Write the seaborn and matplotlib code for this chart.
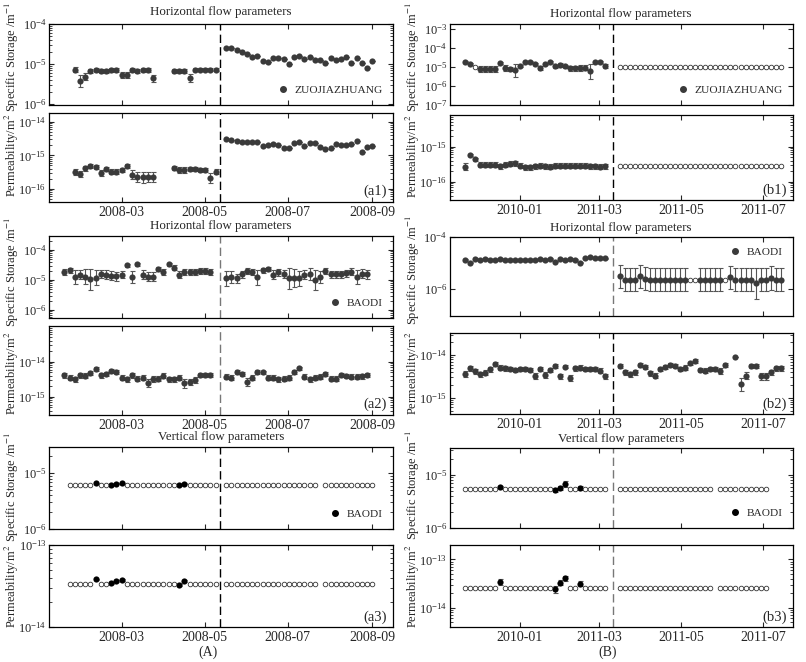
import numpy as np
import pandas as pd
import matplotlib
matplotlib.use('Agg')
import matplotlib.pyplot as plt
from matplotlib.lines import Line2D
from matplotlib.ticker import NullFormatter
import seaborn as sns

# --- 1. DATA ---

# sampling dates of the inversion windows (about every 3.8 days)
dates_a = pd.date_range('2008-01-19', '2008-09-01', periods=60)
dates_b = pd.date_range('2010-11-21', '2011-07-14', periods=64)
quake_a = pd.Timestamp('2008-05-12')
quake_b = pd.Timestamp('2011-03-11')

tick_dates_a = ['2008-03-01', '2008-05-01', '2008-07-01', '2008-09-01']
tick_labels_a = ['2008-03', '2008-05', '2008-07', '2008-09']
tick_dates_b = ['2011-01-01', '2011-03-01', '2011-05-01', '2011-07-01']
tick_labels_b = ['2010-01', '2011-03', '2011-05', '2011-07']

# flags: f = fitted (filled dot), o = fixed (open circle), . = no value
# vals are log10 of the fitted values, errs their half width in decades

# (a1) ZUOJIAZHUANG, horizontal flow
a1_flags = '..' + 'f' * 16 + '...' + 'f' * 9 + '.' + 'f' * 29
a1_ss_vals = [-5.15, -5.43, -5.32, -5.17, -5.15, -5.18, -5.17, -5.15, -5.15, -5.28, -5.28, -5.15, -5.18, -5.15, -5.15, -5.36,
              -5.17, -5.17, -5.17, -5.36, -5.15, -5.15, -5.15, -5.15, -5.15,
              -4.59, -4.59, -4.65, -4.71, -4.75, -4.83, -4.79, -4.92, -4.94, -4.84, -4.84, -4.88, -5.00, -4.82, -4.79,
              -4.88, -4.83, -4.91, -4.91, -4.98, -4.84, -4.90, -4.88, -4.82, -4.98, -4.86, -4.98, -5.11, -4.93]
a1_ss_errs = [0.06, 0.15, 0.08, 0.05, 0.05, 0.05, 0.05, 0.05, 0.05, 0.08, 0.08, 0.05, 0.05, 0.05, 0.05, 0.09,
              0.05, 0.05, 0.05, 0.10, 0.04, 0.04, 0.04, 0.04, 0.04,
              0, 0, 0, 0, 0, 0, 0, 0, 0, 0, 0, 0, 0, 0, 0, 0, 0, 0, 0, 0, 0, 0, 0, 0, 0, 0, 0, 0, 0]
a1_k_vals = [-15.51, -15.55, -15.39, -15.31, -15.34, -15.53, -15.41, -15.49, -15.49, -15.44, -15.32, -15.58, -15.65, -15.66, -15.65, -15.65,
             -15.37, -15.44, -15.44, -15.41, -15.41, -15.44, -15.44, -15.68, -15.49,
             -14.52, -14.54, -14.57, -14.59, -14.61, -14.60, -14.59, -14.71, -14.70, -14.67, -14.69, -14.79, -14.77, -14.62, -14.59,
             -14.71, -14.62, -14.64, -14.74, -14.82, -14.77, -14.66, -14.70, -14.70, -14.66, -14.57, -14.91, -14.74, -14.72]
a1_k_errs = [0.09, 0.09, 0.07, 0.06, 0.06, 0.10, 0.07, 0.08, 0.08, 0.07, 0.06, 0.14, 0.15, 0.16, 0.15, 0.15,
             0.06, 0.08, 0.08, 0.07, 0.07, 0.07, 0.07, 0.15, 0.08,
             0, 0, 0, 0, 0, 0, 0, 0, 0, 0, 0, 0, 0, 0, 0, 0, 0, 0, 0, 0, 0, 0, 0, 0, 0, 0, 0, 0, 0]

# (a2) BAODI, horizontal flow
a2_flags = 'f' * 29 + '..' + 'f' * 28 + '.'
a2_ss_vals = [-4.74, -4.67, -4.90, -4.83, -4.89, -4.98, -4.92, -4.80, -4.83, -4.86, -4.87, -4.83, -4.50, -4.89, -4.48,
              -4.83, -4.89, -4.89, -4.63, -4.74, -4.48, -4.59, -4.83, -4.74, -4.72, -4.72, -4.70, -4.70, -4.74,
              -4.94, -4.89, -4.94, -4.81, -4.70, -4.74, -4.91, -4.67, -4.63, -4.83, -4.74, -4.80, -4.94, -4.92,
              -4.94, -4.83, -4.81, -5.00, -4.89, -4.70, -4.81, -4.81, -4.81, -4.78, -4.72, -4.90, -4.79, -4.81]
a2_ss_errs = [0.10, 0.08, 0.25, 0.15, 0.25, 0.35, 0.25, 0.12, 0.15, 0.15, 0.15, 0.12, 0.05, 0.20, 0.05,
              0.15, 0.15, 0.15, 0.08, 0.10, 0.05, 0.08, 0.12, 0.10, 0.10, 0.10, 0.10, 0.10, 0.10,
              0.25, 0.20, 0.15, 0.12, 0.10, 0.10, 0.25, 0.08, 0.08, 0.15, 0.12, 0.15, 0.35, 0.30,
              0.25, 0.15, 0.20, 0.35, 0.20, 0.10, 0.12, 0.12, 0.12, 0.12, 0.12, 0.25, 0.15, 0.15]
a2_k_vals = [-14.38, -14.45, -14.50, -14.38, -14.40, -14.33, -14.21, -14.38, -14.36, -14.26, -14.30, -14.45, -14.50, -14.38, -14.48,
             -14.46, -14.60, -14.50, -14.48, -14.40, -14.50, -14.50, -14.45, -14.62, -14.57, -14.52, -14.38, -14.38, -14.38,
             -14.43, -14.46, -14.29, -14.36, -14.57, -14.45, -14.29, -14.30, -14.45, -14.45, -14.50, -14.48, -14.45, -14.29,
             -14.19, -14.43, -14.50, -14.46, -14.43, -14.35, -14.48, -14.48, -14.38, -14.41, -14.43, -14.43, -14.41, -14.38]
a2_k_errs = [0.07, 0.07, 0.07, 0.07, 0.07, 0.06, 0.05, 0.07, 0.06, 0.05, 0.06, 0.07, 0.07, 0.07, 0.07,
             0.07, 0.12, 0.08, 0.07, 0.07, 0.07, 0.07, 0.07, 0.12, 0.09, 0.08, 0.06, 0.06, 0.06,
             0.07, 0.07, 0.05, 0.06, 0.12, 0.07, 0.05, 0.05, 0.07, 0.07, 0.07, 0.07, 0.07, 0.05,
             0.05, 0.07, 0.07, 0.07, 0.07, 0.06, 0.07, 0.07, 0.06, 0.06, 0.07, 0.07, 0.07, 0.06]

# (a3) BAODI, vertical flow
a3_flags = '.' + 'ooooo' + 'f' + 'oo' + 'fff' + 'o' * 10 + 'ff' + 'o' * 6 + '.' + 'o' * 18 + '.' + 'o' * 10
a3_ss_vals = [-5.18, -5.21, -5.19, -5.18, -5.21, -5.19]
a3_ss_errs = [0.01, 0.01, 0.01, 0.01, 0.01, 0.01]
a3_ss_fixed = -5.21
a3_k_vals = [-13.42, -13.46, -13.44, -13.43, -13.49, -13.44]
a3_k_errs = [0.01, 0.01, 0.01, 0.01, 0.01, 0.01]
a3_k_fixed = -13.48

# (b1) ZUOJIAZHUANG, horizontal flow
b1_ss_flags = 'ff' + 'o' + 'f' * 26 + '..' + 'o' * 33
b1_ss_vals = [-4.74, -4.81, -5.09, -5.09, -5.09, -5.09, -4.78, -5.03, -5.09, -5.17, -4.95, -4.74, -4.74, -4.81,
              -5.03, -4.83, -4.74, -4.95, -4.90, -4.95, -5.07, -5.07, -5.03, -5.03, -5.21, -4.74, -4.74, -4.95]
b1_ss_errs = [0.05, 0.05, 0.17, 0.17, 0.17, 0.17, 0.05, 0.15, 0.12, 0.35, 0.05, 0.04, 0.04, 0.05,
              0.10, 0.05, 0.04, 0.08, 0.10, 0.08, 0.15, 0.15, 0.15, 0.12, 0.40, 0.04, 0.04, 0.10]
b1_ss_fixed = -4.97
b1_k_flags = 'f' * 29 + '..' + 'o' * 33
b1_k_vals = [-15.57, -15.25, -15.36, -15.51, -15.51, -15.51, -15.51, -15.56, -15.51, -15.49, -15.47, -15.54, -15.59, -15.59, -15.56,
             -15.54, -15.56, -15.57, -15.54, -15.54, -15.54, -15.54, -15.54, -15.54, -15.54, -15.56, -15.56, -15.57, -15.56]
b1_k_errs = [0.10, 0.03, 0.04, 0.07, 0.07, 0.07, 0.07, 0.07, 0.07, 0.07, 0.07, 0.07, 0.07, 0.07, 0.07,
             0.07, 0.07, 0.07, 0.07, 0.07, 0.07, 0.07, 0.07, 0.07, 0.07, 0.07, 0.07, 0.07, 0.07]
b1_k_fixed = -15.56

# (b2) BAODI, horizontal flow
b2_ss_flags = 'f' * 29 + '..' + 'f' * 14 + 'oo' + 'f' * 5 + 'o' + 'f' * 11
b2_ss_vals = [-4.87, -5.00, -4.84, -4.87, -4.84, -4.87, -4.87, -4.84, -4.87, -4.87, -4.87, -4.87, -4.87, -4.87, -4.87,
              -4.84, -4.87, -4.84, -4.96, -4.84, -4.90, -4.84, -4.87, -5.00, -4.81, -4.78, -4.81, -4.83, -4.83,
              -5.52, -5.65, -5.65, -5.65, -5.52, -5.61, -5.65, -5.65, -5.65, -5.65, -5.65, -5.65, -5.65, -5.65,
              -5.65, -5.65, -5.65, -5.65, -5.65,
              -5.56, -5.65, -5.65, -5.65, -5.65, -5.78, -5.65, -5.65, -5.58, -5.65, -5.65]
b2_ss_errs = [0.02, 0.02, 0.02, 0.02, 0.02, 0.02, 0.02, 0.02, 0.02, 0.02, 0.02, 0.02, 0.02, 0.02, 0.02,
              0.02, 0.02, 0.02, 0.02, 0.02, 0.02, 0.02, 0.02, 0.02, 0.02, 0.02, 0.02, 0.02, 0.02,
              0.45, 0.45, 0.45, 0.45, 0.45, 0.45, 0.45, 0.45, 0.45, 0.45, 0.45, 0.45, 0.45, 0.45,
              0.45, 0.45, 0.45, 0.45, 0.45,
              0.45, 0.45, 0.45, 0.45, 0.45, 0.60, 0.45, 0.45, 0.45, 0.45, 0.45]
b2_ss_fixed = -5.65
b2_k_flags = 'f' * 29 + '..' + 'f' * 22 + '.' + 'f' * 10
b2_k_vals = [-14.45, -14.31, -14.38, -14.45, -14.41, -14.33, -14.21, -14.29, -14.31, -14.33, -14.35, -14.32, -14.32, -14.35, -14.48,
             -14.32, -14.46, -14.35, -14.25, -14.50, -14.27, -14.54, -14.31, -14.29, -14.33, -14.32, -14.32, -14.36, -14.50,
             -14.25, -14.40, -14.45, -14.40, -14.23, -14.27, -14.42, -14.48, -14.33, -14.27, -14.23,
             -14.25, -14.33, -14.29, -14.19, -14.14, -14.35, -14.36, -14.32, -14.32, -14.37, -14.23,
             -14.04, -14.68, -14.48, -14.25, -14.25, -14.50, -14.50, -14.40, -14.31, -14.31]
b2_k_errs = [0.07, 0.06, 0.06, 0.06, 0.06, 0.06, 0.04, 0.05, 0.05, 0.05, 0.05, 0.05, 0.05, 0.05, 0.07,
             0.05, 0.07, 0.05, 0.05, 0.07, 0.04, 0.07, 0.05, 0.05, 0.05, 0.05, 0.05, 0.05, 0.07,
             0.05, 0.06, 0.06, 0.06, 0.05, 0.05, 0.06, 0.06, 0.05, 0.05, 0.04,
             0.04, 0.05, 0.05, 0.04, 0.04, 0.05, 0.06, 0.05, 0.05, 0.06, 0.05,
             0.00, 0.15, 0.08, 0.05, 0.05, 0.08, 0.08, 0.06, 0.05, 0.05]

# (b3) BAODI, vertical flow
b3_flags = 'o' * 7 + 'f' + 'o' * 10 + 'fff' + 'oo' + 'f' + 'o' * 5 + '..' + 'o' * 19 + '.' + 'o' * 10 + '...'
b3_ss_vals = [-5.23, -5.28, -5.24, -5.17, -5.25]
b3_ss_errs = [0.03, 0.04, 0.04, 0.05, 0.04]
b3_ss_fixed = -5.27
b3_k_vals = [-13.46, -13.62, -13.48, -13.39, -13.50]
b3_k_errs = [0.06, 0.08, 0.05, 0.05, 0.06]
b3_k_fixed = -13.60

# --- 2. STYLE ---

sns.set_style('ticks')
plt.rcParams['font.family'] = ['Liberation Serif', 'DejaVu Serif']
plt.rcParams['mathtext.fontset'] = 'stix'
plt.rcParams['axes.edgecolor'] = 'black'
plt.rcParams['axes.linewidth'] = 0.9

W, H = 806, 662
fig = plt.figure(figsize=(W / 100, H / 100), dpi=100)

GRAY = '#3a3a3a'


def px_axes(x0, x1, top, bottom):
    return fig.add_axes([x0 / W, 1 - bottom / H, (x1 - x0) / W, (bottom - top) / H])


def draw(ax, dates, flags, vals, errs, fixed, dot_color):
    fl = np.array(list(flags))
    d = dates[fl == 'f']
    v = np.array(vals)
    e = np.array(errs)
    y = 10 ** v
    ax.errorbar(d, y, yerr=[y - 10 ** (v - e), 10 ** (v + e) - y], fmt='none',
                ecolor='#555555', elinewidth=0.8, capsize=1.8, capthick=0.8, zorder=2)
    sns.scatterplot(x=d, y=y, ax=ax, color=dot_color, s=20, linewidth=0, zorder=3)
    if fixed is not None:
        do = dates[fl == 'o']
        sns.scatterplot(x=do, y=np.full(len(do), 10 ** fixed), ax=ax, color='white',
                        edgecolor='#333333', s=11, linewidth=0.6, zorder=3)


def style(ax, ylim, yticks, xlim, tick_dates, tick_labels, quake, qcolor, show_x, ylabel, label_y):
    ax.set_yscale('log')
    ax.set_ylim(10 ** ylim[0], 10 ** ylim[1])
    ax.set_yticks([10.0 ** k for k in yticks])
    ax.yaxis.set_minor_formatter(NullFormatter())
    ax.set_xlim(pd.Timestamp(xlim[0]), pd.Timestamp(xlim[1]))
    ax.set_xticks(pd.to_datetime(tick_dates))
    ax.set_xticklabels(tick_labels if show_x else [])
    ax.tick_params(which='both', direction='in', top=True, right=True, pad=3)
    ax.tick_params(axis='x', labelsize=10)
    ax.tick_params(axis='y', labelsize=9, pad=2)
    ax.tick_params(which='major', length=3.5, width=0.8)
    ax.tick_params(which='minor', length=2, width=0.6)
    ax.tick_params(axis='x', labelbottom=show_x)
    ax.axvline(quake, color=qcolor, ls=(0, (6, 3)), lw=1, zorder=1)
    ax.set_xlabel('')
    ax.set_ylabel(ylabel, fontsize=9)
    ax.yaxis.set_label_coords(-0.083, label_y)


def legend(ax, name, dot_color, loc):
    h = Line2D([], [], marker='o', ls='none', color=dot_color, markersize=4)
    ax.legend([h], [name], loc=loc, frameon=False, fontsize=8.2, handletextpad=0.4,
              borderaxespad=0.5, handlelength=1.2)


SS_LABEL = 'Specific Storage /m$^{-1}$'
K_LABEL = 'Permeability/m$^{2}$'
XA = (49.3, 392.7)
XB = (450, 792.7)
LIM_A = ('2008-01-08', '2008-09-16')
LIM_B = ('2010-11-10', '2011-07-23')

# --- 3. PANELS ---

# column A
ax = px_axes(*XA, 24, 105)
draw(ax, dates_a, a1_flags, a1_ss_vals, a1_ss_errs, None, GRAY)
style(ax, (-6.03, -4.0), [-6, -5, -4], LIM_A, tick_dates_a, tick_labels_a, quake_a, 'black', False, SS_LABEL, 0.6)
legend(ax, 'ZUOJIAZHUANG', GRAY, 'lower right')
ax = px_axes(*XA, 113, 202)
draw(ax, dates_a, a1_flags, a1_k_vals, a1_k_errs, None, GRAY)
style(ax, (-16.39, -13.74), [-16, -15, -14], LIM_A, tick_dates_a, tick_labels_a, quake_a, 'black', True, K_LABEL, 0.53)
ax.text(0.984, 0.12, '(a1)', transform=ax.transAxes, ha='right', va='center', fontsize=10.5)

ax = px_axes(*XA, 236, 318)
draw(ax, dates_a, a2_flags, a2_ss_vals, a2_ss_errs, None, GRAY)
style(ax, (-6.27, -3.53), [-6, -5, -4], LIM_A, tick_dates_a, tick_labels_a, quake_a, '#777777', False, SS_LABEL, 0.56)
legend(ax, 'BAODI', GRAY, 'lower right')
ax = px_axes(*XA, 326, 415)
draw(ax, dates_a, a2_flags, a2_k_vals, a2_k_errs, None, GRAY)
style(ax, (-15.52, -12.98), [-15, -14], LIM_A, tick_dates_a, tick_labels_a, quake_a, '#777777', True, K_LABEL, 0.47)
ax.text(0.984, 0.12, '(a2)', transform=ax.transAxes, ha='right', va='center', fontsize=10.5)

ax = px_axes(*XA, 447, 529)
draw(ax, dates_a, a3_flags, a3_ss_vals, a3_ss_errs, a3_ss_fixed, 'black')
style(ax, (-6.0, -4.53), [-6, -5], LIM_A, tick_dates_a, tick_labels_a, quake_a, 'black', False, SS_LABEL, 0.52)
legend(ax, 'BAODI', 'black', 'lower right')
ax = px_axes(*XA, 545, 627)
draw(ax, dates_a, a3_flags, a3_k_vals, a3_k_errs, a3_k_fixed, 'black')
style(ax, (-14.0, -13.0), [-14, -13], LIM_A, tick_dates_a, tick_labels_a, quake_a, 'black', True, K_LABEL, 0.5)
ax.text(0.984, 0.12, '(a3)', transform=ax.transAxes, ha='right', va='center', fontsize=10.5)

# column B
ax = px_axes(*XB, 24, 105)
draw(ax, dates_b, b1_ss_flags, b1_ss_vals, b1_ss_errs, b1_ss_fixed, GRAY)
style(ax, (-7.0, -2.72), [-7, -6, -5, -4, -3], LIM_B, tick_dates_b, tick_labels_b, quake_b, 'black', False, SS_LABEL, 0.6)
legend(ax, 'ZUOJIAZHUANG', GRAY, 'lower right')
ax = px_axes(*XB, 115, 200)
draw(ax, dates_b, b1_k_flags, b1_k_vals, b1_k_errs, b1_k_fixed, GRAY)
style(ax, (-16.52, -14.1), [-16, -15], LIM_B, tick_dates_b, tick_labels_b, quake_b, 'black', True, K_LABEL, 0.52)
ax.text(0.984, 0.12, '(b1)', transform=ax.transAxes, ha='right', va='center', fontsize=10.5)

ax = px_axes(*XB, 237, 316)
draw(ax, dates_b, b2_ss_flags, b2_ss_vals, b2_ss_errs, b2_ss_fixed, GRAY)
style(ax, (-7.05, -4.0), [-6, -4], LIM_B, tick_dates_b, tick_labels_b, quake_b, '#777777', False, SS_LABEL, 0.58)
legend(ax, 'BAODI', GRAY, 'upper right')
ax = px_axes(*XB, 333, 414)
draw(ax, dates_b, b2_k_flags, b2_k_vals, b2_k_errs, None, GRAY)
style(ax, (-15.38, -13.48), [-15, -14], LIM_B, tick_dates_b, tick_labels_b, quake_b, 'black', True, K_LABEL, 0.5)
ax.text(0.984, 0.12, '(b2)', transform=ax.transAxes, ha='right', va='center', fontsize=10.5)

ax = px_axes(*XB, 448, 528)
draw(ax, dates_b, b3_flags, b3_ss_vals, b3_ss_errs, b3_ss_fixed, 'black')
style(ax, (-6.0, -4.49), [-6, -5], LIM_B, tick_dates_b, tick_labels_b, quake_b, '#777777', False, SS_LABEL, 0.54)
legend(ax, 'BAODI', 'black', 'lower right')
ax = px_axes(*XB, 545, 627)
draw(ax, dates_b, b3_flags, b3_k_vals, b3_k_errs, b3_k_fixed, 'black')
style(ax, (-14.4, -12.7), [-14, -13], LIM_B, tick_dates_b, tick_labels_b, quake_b, '#777777', True, K_LABEL, 0.5)
ax.text(0.984, 0.12, '(b3)', transform=ax.transAxes, ha='right', va='center', fontsize=10.5)

# titles and column labels
for xc, yc, txt, fs in [(221, 12, 'Horizontal flow parameters', 9.3), (221, 226, 'Horizontal flow parameters', 9.3),
                        (221, 437, 'Vertical flow parameters', 9.3), (621, 14, 'Horizontal flow parameters', 9.3),
                        (621, 228, 'Horizontal flow parameters', 9.3), (621, 439, 'Vertical flow parameters', 9.3),
                        (208, 652, '(A)', 10), (608, 652, '(B)', 10)]:
    fig.text(xc / W, 1 - yc / H, txt, ha='center', va='center', fontsize=fs)

fig.savefig('out.png', dpi=100)
